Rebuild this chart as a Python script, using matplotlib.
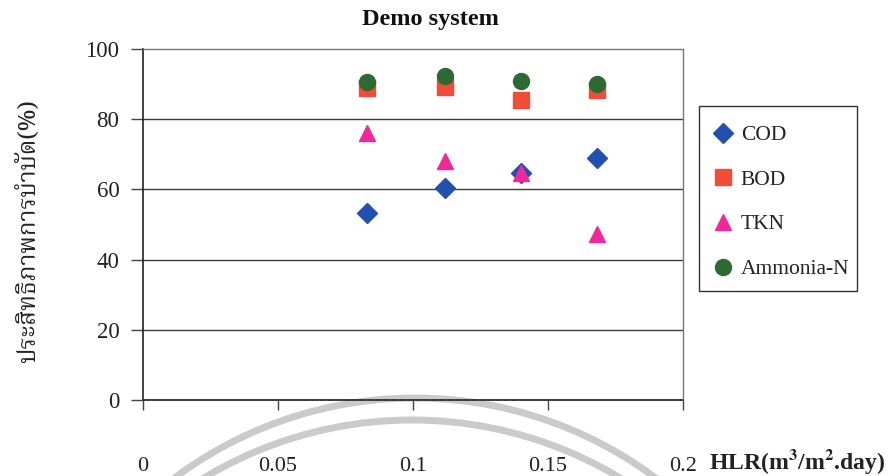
import matplotlib
matplotlib.use("Agg")
import matplotlib.pyplot as plt
from matplotlib import font_manager
from matplotlib.ft2font import FT2Font
from matplotlib.patches import Circle, Rectangle

# ---- data -------------------------------------------------------------
hlr = [0.083, 0.112, 0.14, 0.168]
cod = [53.3, 60.3, 64.7, 69.0]
bod = [88.9, 89.3, 85.5, 88.2]
tkn = [76.2, 68.2, 64.6, 47.4]
ammonia = [90.5, 92.2, 91.0, 90.1]

series_names = ["COD", "BOD", "TKN", "Ammonia-N"]
x_ticks = [0, 0.05, 0.1, 0.15, 0.2]
x_tick_labels = ["0", "0.05", "0.1", "0.15", "0.2"]
y_ticks = [0, 20, 40, 60, 80, 100]

title = "Demo system"
y_label = "ประสิทธิภาพการบำบัด(%)"
x_label = r"HLR(m$^{\mathbf{3}}$/m$^{\mathbf{2}}$.day)"

# ---- fonts ------------------------------------------------------------
SERIF = "Liberation Serif"
plt.rcParams["font.family"] = [SERIF, "DejaVu Serif"]
plt.rcParams["mathtext.fontset"] = "stix"


def family_with(ch):
    names = []
    for f in font_manager.fontManager.ttflist:
        try:
            if ord(ch) in FT2Font(f.fname).get_charmap():
                names.append(f.name)
        except Exception:
            pass
    for pref in ["Noto Serif Thai", "Noto Sans Thai", "Noto Sans Thai Looped",
                 "Garuda", "Loma", "Norasi", "Kinnari", "TlwgTypo", "Tlwg Typo"]:
        if pref in names:
            return pref
    return names[0] if names else "DejaVu Sans"


thai_family = family_with("ป")

# ---- figure -----------------------------------------------------------
W, H = 889, 476
fig = plt.figure(figsize=(W / 100, H / 100), dpi=100)
fig.patch.set_facecolor("white")

# overlay in pixel space: faint circular stamp and the legend box
bg = fig.add_axes([0, 0, 1, 1], zorder=0)
bg.set_xlim(0, W)
bg.set_ylim(H, 0)
bg.axis("off")
for cx, cy, r in [(415, 800, 402), (412, 823, 403)]:
    bg.add_patch(Circle((cx, cy), r, fill=False, edgecolor="#cacaca", lw=5.0))
bg.add_patch(Rectangle((699, 106), 158, 185, fill=False,
                       edgecolor="#333333", lw=1.0))

ax = fig.add_axes([143 / W, 1 - 400 / H, 540 / W, 351 / H], zorder=1)
ax.set_facecolor("none")

ax.set_xlim(0, 0.2)
ax.set_ylim(0, 100)

for yv in y_ticks[1:-1]:
    ax.axhline(yv, color="#3a3a3a", lw=1.0, zorder=1)

styles = [
    dict(marker="D", color="#2150ae", ms=10),
    dict(marker="s", color="#f04c36", ms=11),
    dict(marker="^", color="#f0289a", ms=12),
    dict(marker="o", color="#2d6a33", ms=11.5),
]
for name, vals, st in zip(series_names, [cod, bod, tkn, ammonia], styles):
    ax.plot(hlr, vals, linestyle="none", marker=st["marker"], markersize=st["ms"],
            markerfacecolor=st["color"], markeredgecolor=st["color"],
            label=name, zorder=3, clip_on=False)

for side in ["top", "right"]:
    ax.spines[side].set_color("#777777")
    ax.spines[side].set_linestyle((0, (1.5, 1)))
    ax.spines[side].set_linewidth(1.0)
ax.spines["bottom"].set_color("#333333")
ax.spines["bottom"].set_linestyle((0, (1, 0.6)))
ax.spines["bottom"].set_linewidth(1.2)
ax.spines["left"].set_color("#222222")
ax.spines["left"].set_linewidth(1.2)

ax.set_xticks(x_ticks)
ax.set_xticklabels(x_tick_labels)
ax.set_yticks(y_ticks)
ax.tick_params(axis="x", direction="out", length=7, width=1, color="#444444",
               pad=34, labelsize=16, labelcolor="#222222")
ax.tick_params(axis="y", direction="out", length=9, width=1, color="#444444",
               pad=8, labelsize=16.5, labelcolor="#222222")

fig.text(430 / W, 1 - 19 / H, title, ha="center", va="center",
         fontsize=17.5, fontweight="bold", color="#111111")

fig.text(30 / W, 1 - 231 / H, y_label, rotation=90, ha="center", va="center",
         fontsize=17.5, fontweight="bold", color="#222222",
         family=[thai_family, "DejaVu Sans"])

fig.text(709 / W, 1 - 461 / H, x_label, ha="left", va="center",
         fontsize=17, fontweight="bold", color="#222222")

leg = ax.legend(loc="upper left", bbox_to_anchor=(697 / W, 1 - 109 / H),
                bbox_transform=fig.transFigure, frameon=False,
                fontsize=15.5, handletextpad=0.39, handlelength=0.9,
                labelspacing=1.14, borderpad=0.75, borderaxespad=0)
for t in leg.get_texts():
    t.set_color("#222222")

fig.savefig("out.png", dpi=100, facecolor="white")
